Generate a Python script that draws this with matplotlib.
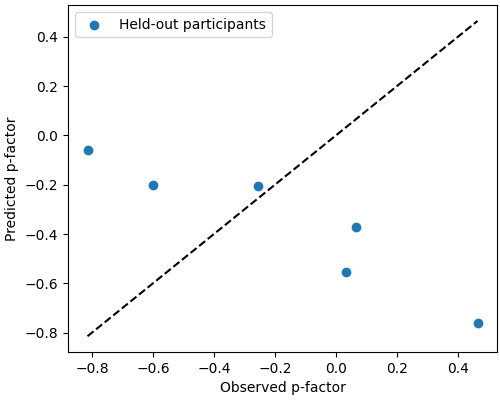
import numpy as np
from matplotlib import pyplot as plt

observed = np.array([-0.815, -0.60, -0.255, 0.065, 0.035, 0.465])
predicted = np.array([-0.06, -0.20, -0.205, -0.37, -0.555, -0.76])

fig, ax = plt.subplots(figsize=(5, 4), dpi=100)
ax.scatter(observed, predicted, label="Held-out participants")
lims = [observed.min(), observed.max()]
ax.plot(lims, lims, 'k--')
ax.set_xlabel("Observed p-factor")
ax.set_ylabel("Predicted p-factor")
ax.legend(loc="upper left")
fig.subplots_adjust(left=0.136, right=0.994, top=0.987, bottom=0.12)
fig.savefig("out.png")
